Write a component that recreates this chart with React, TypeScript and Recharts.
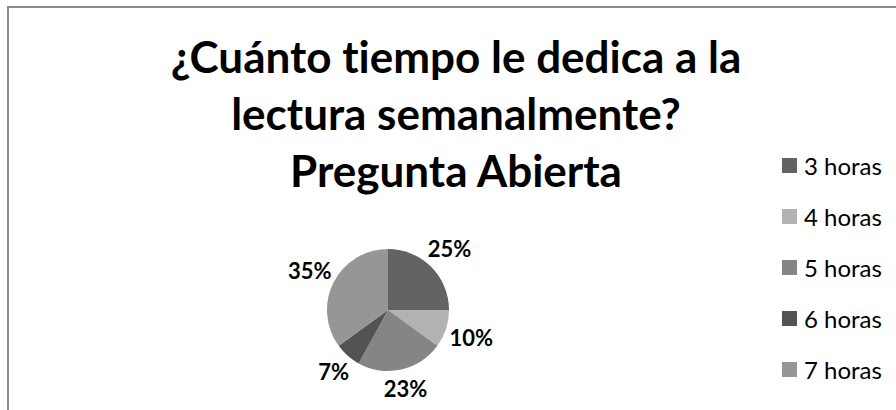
import React from 'react';
import { PieChart, Pie, Cell, Legend } from 'recharts';

const categories = ['3 horas', '4 horas', '5 horas', '6 horas', '7 horas'];
const values = [25, 10, 23, 7, 35];
const colors = ['#636363', '#b2b2b2', '#858585', '#535353', '#969696'];
const titleLines = ['¿Cuánto tiempo le dedica a la', 'lectura semanalmente?', 'Pregunta Abierta'];

const data = categories.map((name, i) => ({ name, value: values[i] }));

const RAD = Math.PI / 180;

const renderLabel = (props: any) => {
  const { cx, cy, midAngle, outerRadius, percent } = props;
  const text = `${Math.round(percent * 100)}%`;
  const w = text.length * 13;
  const h = 20;
  const c = Math.cos(-midAngle * RAD);
  const s = Math.sin(-midAngle * RAD);
  const r = outerRadius + 5 + (w / 2) * Math.abs(c) + (h / 2) * Math.abs(s);
  const x = cx + r * c;
  const y = cy + r * s;
  return (
    <text
      x={x}
      y={y}
      textAnchor="middle"
      dominantBaseline="central"
      fill="#000"
      style={{ fontFamily: 'Lato, sans-serif', fontWeight: 700, fontSize: 22 }}
    >
      {text}
    </text>
  );
};

const renderLegend = () => (
  <div style={{ fontFamily: 'Lato, sans-serif' }}>
    {categories.map((name, i) => (
      <div key={name} style={{ display: 'flex', alignItems: 'center', height: 51 }}>
        <div style={{ width: 15, height: 15, background: colors[i], marginRight: 7 }} />
        <span style={{ fontSize: 24, color: '#000', lineHeight: '24px' }}>{name}</span>
      </div>
    ))}
  </div>
);

export default function App() {
  return (
    <div style={{ position: 'absolute', left: 0, top: 0, width: 896, height: 410, background: '#fff', overflow: 'hidden' }}>
      <div
        style={{
          position: 'absolute',
          left: 7,
          top: 6,
          width: 900,
          height: 420,
          borderTop: '2px solid #8c8c8c',
          borderLeft: '2px solid #8c8c8c',
        }}
      />
      <svg width={896} height={410} style={{ position: 'absolute', left: 0, top: 0 }}>
        {titleLines.map((line, i) => (
          <text
            key={i}
            x={456}
            y={73 + i * 57}
            textAnchor="middle"
            fill="#000"
            style={{
              fontFamily: 'Lato, sans-serif',
              fontWeight: 700,
              fontSize: 44,
              fontVariantLigatures: 'none',
            }}
          >
            {line}
          </text>
        ))}
      </svg>
      <div style={{ position: 'absolute', left: 0, top: 0 }}>
        <PieChart width={896} height={410} margin={{ top: 0, right: 0, bottom: 0, left: 0 }}>
          <Pie
            data={data}
            dataKey="value"
            nameKey="name"
            cx={388}
            cy={310}
            outerRadius={61}
            startAngle={90}
            endAngle={-270}
            stroke="none"
            label={renderLabel}
            labelLine={false}
            isAnimationActive={false}
          >
            {data.map((d, i) => (
              <Cell key={d.name} fill={colors[i]} />
            ))}
          </Pie>
          <Legend
            content={renderLegend}
            wrapperStyle={{ position: 'absolute', left: 782, top: 140, width: 120 }}
          />
        </PieChart>
      </div>
    </div>
  );
}
